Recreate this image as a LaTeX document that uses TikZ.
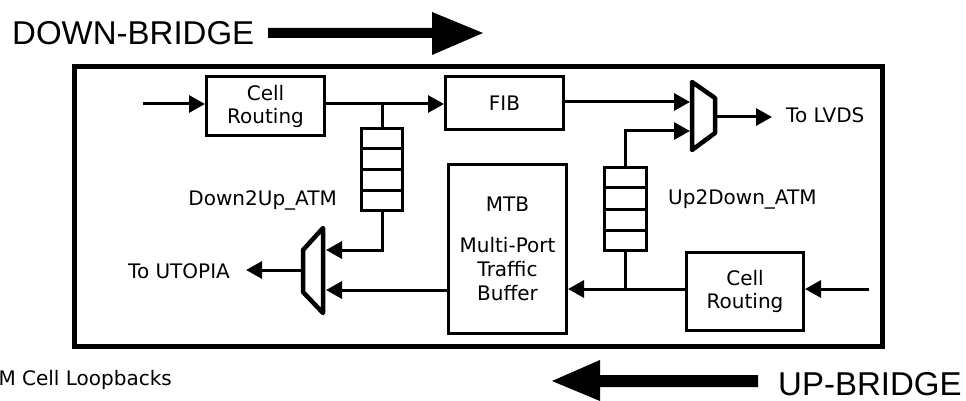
\documentclass[tikz,border=0pt]{standalone}
\usepackage{fontspec}
\usetikzlibrary{arrows.meta,calc}
\newfontfamily\labfont{DejaVu Sans}
\newfontfamily\bigfont{Liberation Sans}
\begin{document}
\begin{tikzpicture}[x=1pt,y=-1pt,
  lab/.style={font=\labfont\fontsize{20}{24}\selectfont, inner sep=0pt},
  biglab/.style={font=\bigfont\fontsize{33}{36}\selectfont, inner sep=0pt},
  box/.style={draw, line width=3pt, align=center, font=\labfont\fontsize{20}{23}\selectfont, inner sep=0pt},
  queue/.style={draw, line width=3pt, inner sep=0pt},
  wire/.style={line width=3pt},
  arr/.style={line width=3pt, -{Triangle[length=16pt,width=17pt]}},
  muxs/.style={line width=4.5pt, line join=round, line cap=round},
  bigarrow/.style={fill=black, draw=none}
]
\useasboundingbox (0,0) rectangle (966,401);
% outer frame
\node[draw, line width=5pt, minimum width=808pt, minimum height=280pt, inner sep=0pt] (outer) at (478.5,206.5) {};
% boxes
\node[box, minimum width=118pt, minimum height=59pt] (cr1) at (265.5,106) {Cell\\Routing};
\node[box, minimum width=118pt, minimum height=53pt] (fib) at (504.5,103) {FIB};
\node[box, minimum width=118pt, minimum height=169pt] (mtb) at (507.5,249) {MTB\\[18pt]Multi-Port\\[1pt]Traffic\\[1pt]Buffer};
\node[box, minimum width=117pt, minimum height=78pt] (cr2) at (745,291.5) {Cell\\Routing};
% queues
\node[queue, minimum width=41pt, minimum height=82pt] (q1) at (382,169.5) {};
\node[queue, minimum width=42pt, minimum height=83pt] (q2) at (625.5,209) {};
\foreach \q in {q1,q2}{
  \foreach \f in {0.25,0.5,0.75}{
    \draw[wire] ($(\q.north west)!\f!(\q.south west)$) -- ($(\q.north east)!\f!(\q.south east)$);
  }
}
% multiplexers
\coordinate (m1a) at (323,228);
\coordinate (m1b) at (303,250);
\coordinate (m1c) at (303,292);
\coordinate (m1d) at (323,313);
\draw[muxs] (m1a) -- (m1b) -- (m1c) -- (m1d) -- cycle;
\coordinate (m2a) at (692,82);
\coordinate (m2b) at (715,98);
\coordinate (m2c) at (715,133);
\coordinate (m2d) at (692,150);
\draw[muxs] (m2a) -- (m2b) -- (m2c) -- (m2d) -- cycle;
% labels
\node[biglab, anchor=base west] (down) at (12,45) {DOWN-BRIDGE};
\node[biglab, anchor=base west] (up) at (778,395) {UP-BRIDGE};
\node[lab, anchor=base west] (lvds) at (786,123) {To LVDS};
\node[lab, anchor=base west] (utopia) at (128,278) {To UTOPIA};
\node[lab, anchor=base east] (d2u) at (337,205) {Down2Up\_ATM};
\node[lab, anchor=base west] (u2d) at (668,204) {Up2Down\_ATM};
\node[lab, anchor=base east] (loop) at (172,385) {M Cell Loopbacks};
% big arrows
\coordinate (da0) at (268,28);
\draw[bigarrow] (da0) -- (432,28) -- (432,12) -- (483,33) -- (432,55) -- (432,38) -- (268,38) -- cycle;
\coordinate (ua0) at (758,375);
\draw[bigarrow] (ua0) -- (600,375) -- (600,360) -- (552,381) -- (600,401) -- (600,387) -- (758,387) -- cycle;
% connectors
\coordinate (in1) at (143,104);
\draw[arr] (in1) -- (cr1.west |- in1);
\coordinate (j1) at (382,104);
\draw[arr] (cr1.east |- j1) -- (fib.west |- j1);
\draw[wire] (j1) -- (q1.north);
\coordinate (m1in1) at (326,250);
\draw[arr] (q1.south) |- (m1in1);
\coordinate (m1in2) at (326,290);
\draw[arr] (mtb.west |- m1in2) -- (m1in2);
\coordinate (m1out) at (303,270);
\draw[arr] (m1out) -- ([xshift=16pt]utopia.east |- m1out);
\coordinate (m2in1) at (690,102);
\draw[arr] (fib.east |- m2in1) -- (m2in1);
\coordinate (m2in2) at (690,131);
\draw[arr] (q2.north) |- (m2in2);
\coordinate (m2out) at (715,117);
\draw[arr] (m2out) -- ([xshift=-14pt]lvds.west |- m2out);
\coordinate (j2) at (625.5,289);
\draw[arr] (cr2.west |- j2) -- (mtb.east |- j2);
\draw[wire] (q2.south) -- (j2);
\coordinate (in2) at (869,289);
\draw[arr] (in2) -- (cr2.east |- in2);
\end{tikzpicture}
\end{document}
